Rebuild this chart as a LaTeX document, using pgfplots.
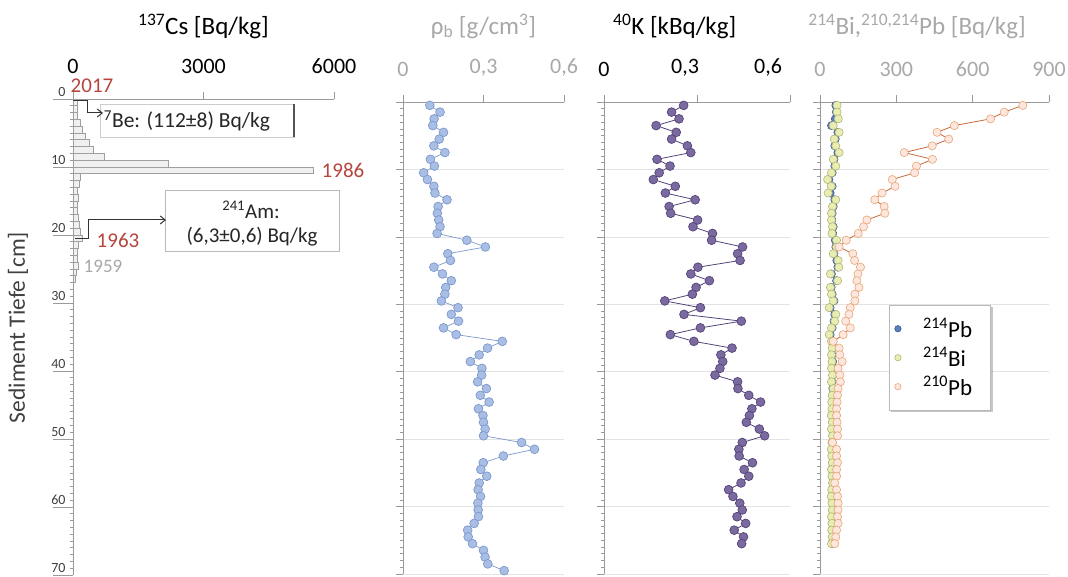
\documentclass[border=0pt]{standalone}
\usepackage{fontspec}
\setmainfont{Carlito}
\usepackage{pgfplots}
\usepackage{pgfplotstable}
\pgfplotsset{compat=1.18}
\usetikzlibrary{arrows.meta,shadows}

\definecolor{redtxt}{HTML}{B5453D}
\definecolor{axgray}{HTML}{9A9A9A}
\definecolor{lblgray}{HTML}{A8A8A8}
\definecolor{dark}{HTML}{404040}
\definecolor{rhofill}{HTML}{A8BEE4}
\definecolor{rhoedge}{HTML}{7D98CC}
\definecolor{kfill}{HTML}{7B6A9F}
\definecolor{kedge}{HTML}{54447A}
\definecolor{pbfill}{HTML}{FCE6DD}
\definecolor{pbedge}{HTML}{E8A677}
\definecolor{pbline}{HTML}{C46A3E}
\definecolor{bifill}{HTML}{EAEDB2}
\definecolor{biedge}{HTML}{B0B87A}
\definecolor{pbbfill}{HTML}{5B7FBF}
\definecolor{pbbedge}{HTML}{3C5A92}

\pgfplotstableread{
d v
0.5 100
1.5 100
2.5 110
3.5 160
4.5 210
5.5 290
6.5 380
7.5 460
8.5 730
9.5 2200
10.5 5530
11.5 175
12.5 140
13.5 100
14.5 120
15.5 100
16.5 100
17.5 120
18.5 140
19.5 175
20.5 215
21.5 120
22.5 100
23.5 100
24.5 120
25.5 75
26.5 45
}\cstab

\pgfplotstableread{
d v
0.5 0.100
1.5 0.138
2.5 0.116
3.5 0.111
4.5 0.151
5.5 0.135
6.5 0.115
7.5 0.156
8.5 0.102
9.5 0.117
10.5 0.077
11.5 0.091
12.5 0.115
13.5 0.119
14.5 0.164
15.5 0.131
16.5 0.128
17.5 0.133
18.5 0.138
19.5 0.127
20.5 0.238
21.5 0.307
22.5 0.167
23.5 0.177
24.5 0.115
25.5 0.147
26.5 0.180
27.5 0.159
28.5 0.156
29.5 0.143
30.5 0.205
31.5 0.180
32.5 0.207
33.5 0.151
34.5 0.198
35.5 0.370
36.5 0.315
37.5 0.284
38.5 0.251
39.5 0.294
40.5 0.293
41.5 0.278
42.5 0.311
43.5 0.288
44.5 0.321
45.5 0.281
46.5 0.298
47.5 0.300
48.5 0.306
49.5 0.300
50.5 0.442
51.5 0.490
52.5 0.374
53.5 0.299
54.5 0.290
55.5 0.312
56.5 0.284
57.5 0.280
58.5 0.289
59.5 0.279
60.5 0.280
61.5 0.281
62.5 0.265
63.5 0.241
64.5 0.243
65.5 0.259
66.5 0.300
67.5 0.306
68.5 0.316
69.5 0.377
}\rhotab

\pgfplotstableread{
d v
0.5 0.257
1.5 0.218
2.5 0.242
3.5 0.168
4.5 0.233
5.5 0.218
6.5 0.269
7.5 0.280
8.5 0.171
9.5 0.213
10.5 0.178
11.5 0.159
12.5 0.230
13.5 0.198
14.5 0.294
15.5 0.210
16.5 0.215
17.5 0.302
18.5 0.287
19.5 0.350
20.5 0.347
21.5 0.447
22.5 0.431
23.5 0.439
24.5 0.303
25.5 0.280
26.5 0.340
27.5 0.297
28.5 0.285
29.5 0.196
30.5 0.311
31.5 0.258
32.5 0.443
33.5 0.311
34.5 0.214
35.5 0.290
36.5 0.413
37.5 0.377
38.5 0.383
39.5 0.374
40.5 0.358
41.5 0.431
42.5 0.432
43.5 0.467
44.5 0.505
45.5 0.477
46.5 0.469
47.5 0.459
48.5 0.501
49.5 0.518
50.5 0.446
51.5 0.435
52.5 0.436
53.5 0.479
54.5 0.452
55.5 0.467
56.5 0.442
57.5 0.402
58.5 0.416
59.5 0.438
60.5 0.446
61.5 0.429
62.5 0.457
63.5 0.420
64.5 0.450
65.5 0.444
}\ktab

\pgfplotstableread{
d pbb bi pba
0.5 62 67 797
1.5 64 67 724
2.5 60 72 670
3.5 45 52 528
4.5 70 75 460
5.5 60 56 506
6.5 58 62 441
7.5 70 75 331
8.5 55 52 442
9.5 58 62 379
10.5 48 45 372
11.5 35 30 284
12.5 48 44 295
13.5 40 32 244
14.5 58 62 215
15.5 52 49 252
16.5 48 45 255
17.5 47 45 184
18.5 52 49 171
19.5 50 47 150
20.5 60 65 103
21.5 62 65 75
22.5 55 52 129
23.5 66 71 136
24.5 70 74 159
25.5 45 41 149
26.5 65 69 145
27.5 44 41 153
28.5 48 45 137
29.5 55 52 137
30.5 40 36 119
31.5 58 62 114
32.5 55 58 101
33.5 48 45 119
34.5 40 36 91
35.5 48 45 52
36.5 50 48 75
37.5 47 45 78
38.5 50 47 87
39.5 48 45 71
40.5 50 49 78
41.5 47 45 80
42.5 50 52 71
43.5 49 48 69
44.5 48 46 67
45.5 49 47 65
46.5 46 44 65
47.5 49 48 67
48.5 47 45 69
49.5 50 49 69
50.5 48 47 49
51.5 46 44 65
52.5 48 46 65
53.5 49 48 69
54.5 47 45 65
55.5 48 47 65
56.5 50 49 58
57.5 48 46 65
58.5 46 44 69
59.5 48 47 71
60.5 49 48 71
61.5 47 45 69
62.5 48 47 71
63.5 47 46 65
64.5 49 48 62
65.5 47 45 58
}\pbtab

\pgfplotsset{
  panel/.style={
    scale only axis, y dir=reverse, ymin=0, ymax=70,
    axis x line*=top, axis y line*=left,
    axis line style={axgray, line width=0.8pt},
    tick align=outside, major tick length=7pt, minor tick length=3pt,
    ytick={0,10,...,70}, minor y tick num=9, yticklabels={},
    every tick/.style={axgray, line width=0.6pt},
    tick label style={font=\fontsize{22}{25}\selectfont},
    /pgf/number format/assume math mode=true,
    /pgf/number format/1000 sep={},
    xticklabel style={yshift=15pt},
    title style={font=\fontsize{25}{28}\selectfont, anchor=center},
    clip=false,
  },
  grids/.style={ymajorgrids, major grid style={gray!22, line width=0.6pt}},
}

\begin{document}
\begin{tikzpicture}
\useasboundingbox (0,0) rectangle (1068pt,577pt);

% ---- Panel 1: 137Cs
\begin{axis}[panel, at={(203.5pt,240pt)}, anchor=center, width=261pt, height=476pt,
  xmin=0, xmax=6000, xtick={0,3000,6000},
  title={\textsuperscript{137}Cs [Bq/kg]},
  title style={at={(axis description cs:0.5,1)}, yshift=67pt},
  extra y ticks={0,10,...,70},
  extra y tick labels={0,10,20,30,40,50,60,70},
  extra y tick style={major tick length=20pt,
     yticklabel style={font=\fontsize{14}{16}\selectfont, text=dark, anchor=south east, xshift=16pt, yshift=-1pt}},
  ylabel={Sediment Tiefe [cm]},
  ylabel style={font=\fontsize{23.5}{26}\selectfont, text=dark, at={(axis description cs:-0.211,0.52)}, anchor=center},
]
\addplot[xbar, bar width=1, bar shift=0pt, fill=gray!12, draw=gray!75, line width=0.6pt]
  table[x=v, y=d] {\cstab};
\end{axis}

% ---- Panel 2: rho_b
\begin{axis}[panel, grids, at={(483.5pt,239pt)}, anchor=center, width=161pt, height=472pt,
  xmin=0, xmax=0.6, xtick={0,0.3,0.6}, xticklabels={0,{0,3},{0,6}},
  xticklabel style={text=lblgray},
  title={\textcolor{lblgray}{ρ\textsubscript{b} [g/cm\textsuperscript{3}]}},
  title style={at={(axis description cs:0.5,1)}, yshift=70pt},
]
\addplot[rhoedge, line width=0.7pt, mark=*, mark size=4.4pt,
  mark options={fill=rhofill, draw=rhoedge, line width=0.7pt}]
  table[x=v, y=d] {\rhotab};
\end{axis}

% ---- Panel 3: 40K
\begin{axis}[panel, grids, at={(697pt,239pt)}, anchor=center, width=186pt, height=472pt,
  xmin=0, xmax=0.6, xtick={0,0.3,0.6},
  xticklabels={0,{\hspace*{-24pt}0,3},{\hspace*{-44pt}0,6}},
  title={\textsuperscript{40}K [kBq/kg]},
  title style={at={(axis description cs:0.38,1)}, yshift=70pt},
]
\addplot[kedge, line width=0.8pt, mark=*, mark size=4.4pt,
  mark options={fill=kfill, draw=kedge, line width=0.7pt}]
  table[x=v, y=d] {\ktab};
\end{axis}

% ---- Panel 4: 214Bi, 210/214Pb
\begin{axis}[panel, grids, at={(934.5pt,239pt)}, anchor=center, width=229pt, height=472pt,
  xmin=0, xmax=900, xtick={0,300,600,900},
  xticklabel style={text=lblgray},
  title={\textcolor{lblgray}{\textsuperscript{214}Bi,\textsuperscript{210,214}Pb [Bq/kg]}},
  title style={at={(axis description cs:0.424,1)}, yshift=70pt},
  legend style={at={(axis description cs:0.301,0.570)}, anchor=north west,
    draw=gray!55, fill=white, line width=0.6pt, drop shadow={shadow xshift=2pt, shadow yshift=-2pt, opacity=0.45},
    font=\fontsize{23}{26}\selectfont, row sep=4pt, inner xsep=5.5pt, inner ysep=11pt},
  legend cell align=left,
]
\addplot[only marks, mark=*, mark size=4pt, mark options={fill=pbbfill, draw=pbbedge, line width=0.6pt}, forget plot]
  table[x=pbb, y=d] {\pbtab};
\addplot[only marks, mark=*, mark size=4.1pt, mark options={fill=bifill, draw=biedge, line width=0.6pt}, forget plot]
  table[x=bi, y=d] {\pbtab};
\addplot[pbline, line width=0.8pt, mark=*, mark size=4.1pt, mark options={fill=pbfill, draw=pbedge, line width=0.6pt}, forget plot]
  table[x=pba, y=d] {\pbtab};
\addlegendimage{only marks, mark=*, mark size=3.2pt, mark options={fill=pbbfill, draw=pbbedge}}
\addlegendentry{\makebox[80pt][l]{\hspace{20pt}\textsuperscript{214}Pb}}
\addlegendimage{only marks, mark=*, mark size=3.2pt, mark options={fill=bifill, draw=biedge}}
\addlegendentry{\makebox[80pt][l]{\hspace{20pt}\textsuperscript{214}Bi}}
\addlegendimage{only marks, mark=*, mark size=3.2pt, mark options={fill=pbfill, draw=pbedge}}
\addlegendentry{\makebox[80pt][l]{\hspace{20pt}\textsuperscript{210}Pb}}
\end{axis}

% ---- Annotations (image pixel coordinates, y downward)
\begin{scope}[x=1pt, y=-1pt, shift={(0pt,577pt)}]
  \node[text=redtxt, font=\fontsize{21}{24}\selectfont] at (92,86) {2017};
  \node[text=redtxt, font=\fontsize{21}{24}\selectfont] at (343,170) {1986};
  \node[text=redtxt, font=\fontsize{21}{24}\selectfont] at (118,240) {1963};
  \node[text=lblgray, font=\fontsize{19}{22}\selectfont] at (103,266) {1959};
  % 7Be box
  \draw[gray!40, fill=white, line width=0.6pt] (100,104) rectangle (294,137);
  \draw[gray!65!black, line width=2pt] (294,104) -- (294,137);
  \node[font=\fontsize{21.5}{24}\selectfont, text=black!85] at (187,121) {\textsuperscript{7}Be: (112±8) Bq/kg};
  \draw[black!80, line width=1pt, -{Straight Barb[length=5pt, width=8pt]}] (73,101) -- (87,101) -- (87,113) -- (103,113);
  % 241Am box
  \draw[gray!55, fill=white, line width=0.8pt] (165,190) rectangle (339,251);
  \node[font=\fontsize{21}{24}\selectfont, text=black!85] at (251,210) {\textsuperscript{241}Am:};
  \node[font=\fontsize{21}{24}\selectfont, text=black!85] at (252,237) {(6,3±0,6) Bq/kg};
  \draw[black!80, line width=1pt, -{Straight Barb[length=5pt, width=8pt]}] (75,239) -- (88,239) -- (88,220) -- (166,220);
\end{scope}
\end{tikzpicture}
\end{document}
